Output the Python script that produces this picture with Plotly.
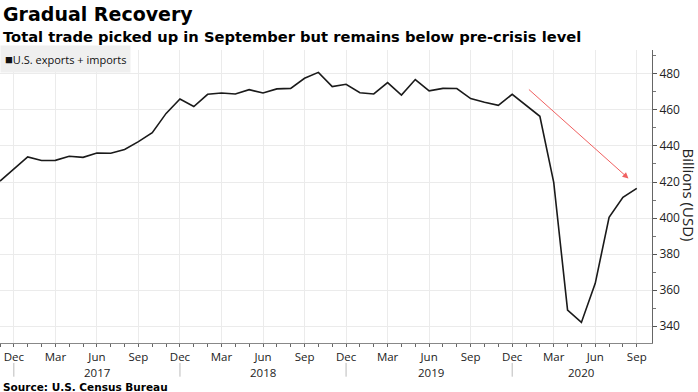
import plotly.graph_objects as go

# Monthly data Nov 2016 .. Sep 2020 (index 0 = Nov 2016)
values = [420.5, 427.0, 433.9, 431.9, 432.0, 434.3, 433.7, 436.1, 436.0, 438.1, 442.4, 447.4,
          458.1, 466.1, 461.9, 468.7, 469.4, 468.9, 471.3, 469.4, 471.7, 472.0, 477.6, 480.9,
          473.0, 474.3, 469.6, 468.9, 475.2, 468.3, 476.9, 470.6, 472.0, 471.9, 466.3, 464.3,
          462.6, 468.7, 462.8, 456.5, 419.8, 348.9, 342.0, 363.7, 400.4, 411.5, 416.5]
months = list(range(len(values)))

tick_idx = list(range(1, 47, 3))
tick_labels = ["Dec", "Mar", "Jun", "Sep"] * 4
years = ["2017", "2018", "2019", "2020"]
year_pos = [7.0, 19.0, 31.1, 42.0]
year_sep = [1, 13, 25, 37]

fig = go.Figure()
fig.add_trace(go.Scatter(x=months, y=values, mode="lines",
                         line=dict(color="#1a1a1a", width=1.6),
                         name="U.S. exports + imports", showlegend=False))

fig.update_layout(
    width=698, height=392,
    margin=dict(l=0, r=46, t=50, b=49, autoexpand=False),
    paper_bgcolor="white", plot_bgcolor="white",
    font=dict(family="Open Sans", color="#222"),
    xaxis=dict(range=[0, 47.1], tickmode="array", tickvals=tick_idx, ticktext=tick_labels,
               automargin=False,
               showgrid=True, gridcolor="#ebebeb", gridwidth=1,
               ticks="outside", ticklen=3, tickcolor="#666",
               showline=True, linecolor="#888", linewidth=1,
               tickfont=dict(size=11.5, color="#222"),
               minor=dict(tickvals=months, ticks="outside", ticklen=3, tickcolor="#666", showgrid=False),
               zeroline=False),
    yaxis=dict(side="right", range=[330.6, 493.3], tickvals=[340, 360, 380, 400, 420, 440, 460, 480],
               automargin=False,
               showgrid=True, gridcolor="#ebebeb", gridwidth=1,
               ticks="outside", ticklen=4, tickcolor="#555",
               showline=True, linecolor="#666", linewidth=1,
               tickfont=dict(size=12, color="#222"),
               minor=dict(dtick=10, ticks="outside", ticklen=3, tickcolor="#777", showgrid=False),
               zeroline=False),
)

# y-axis title (reads top to bottom)
fig.add_annotation(text="Billions (USD)", xref="paper", yref="paper", x=1, y=0.5,
                   xanchor="center", yanchor="middle", xshift=37, yshift=2, textangle=90, showarrow=False,
                   font=dict(size=15, color="#222"))

# title, subtitle, source
fig.add_annotation(text="<b>Gradual Recovery</b>", xref="paper", yref="paper", x=0, y=1,
                   xanchor="left", yanchor="middle", yshift=36, xshift=1, showarrow=False,
                   font=dict(family="DejaVu Sans", size=19, color="#000"), align="left")
fig.add_annotation(text="<b>Total trade picked up in September but remains below pre-crisis level</b>",
                   xref="paper", yref="paper", x=0, y=1, xanchor="left", yanchor="middle", yshift=14, xshift=1,
                   showarrow=False, font=dict(family="DejaVu Sans", size=14.7, color="#000"), align="left")
fig.add_annotation(text="<b>Source: U.S. Census Bureau</b>", xref="paper", yref="paper", x=0, y=0,
                   xanchor="left", yanchor="middle", yshift=-44, xshift=1, showarrow=False,
                   font=dict(family="DejaVu Sans", size=10.5, color="#000"), align="left")

# legend box
fig.add_annotation(text="<span style='font-size:13px'>■</span>U.S. exports + imports", xref="paper", yref="paper",
                   x=0, y=1, xanchor="left", yanchor="middle", yshift=-9, showarrow=False,
                   bgcolor="#efefef", borderpad=4,
                   font=dict(family="Open Sans", size=11, color="#111"))

# year labels and separators
for yr, pos in zip(years, year_pos):
    fig.add_annotation(text=yr, x=pos, xref="x", y=0, yref="paper", yanchor="middle", yshift=-29.5,
                       showarrow=False, font=dict(size=11.5, color="#222"))
for s in year_sep:
    fig.add_shape(type="line", xref="x", yref="paper", x0=s, x1=s, y0=-0.068, y1=-0.115,
                  line=dict(color="#bbbbbb", width=1))

# red arrow
fig.add_annotation(x=45.4, y=422.0, ax=38.1, ay=472.1, xref="x", yref="y", axref="x", ayref="y",
                   showarrow=True, arrowhead=2, arrowsize=1.2, arrowwidth=1, arrowcolor="#f06060", text="")

fig.write_html("out.html", config={"displayModeBar": False},
               post_script="document.body.style.margin='0';document.documentElement.style.margin='0';")
